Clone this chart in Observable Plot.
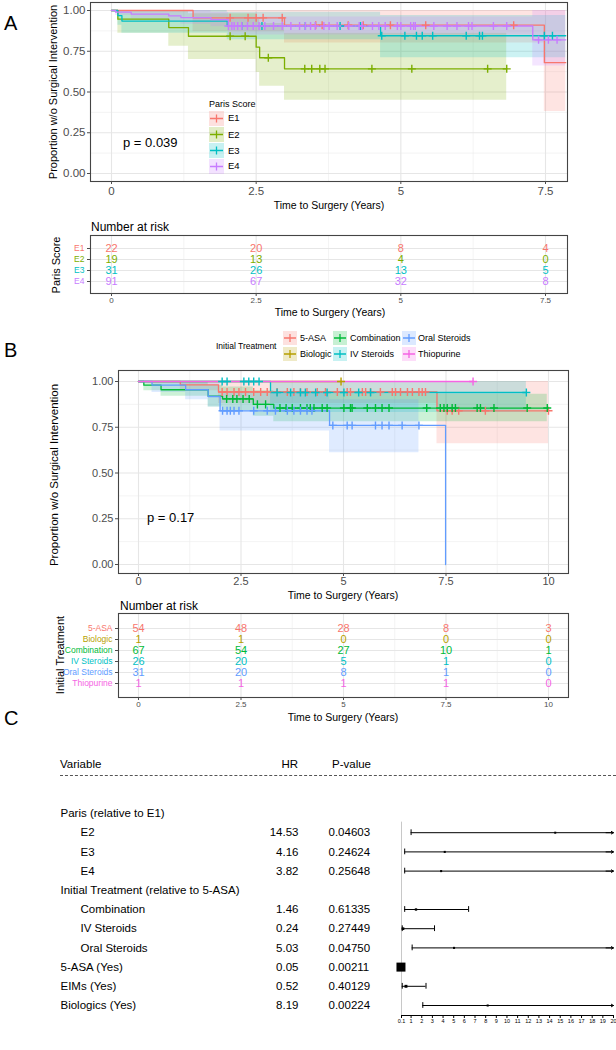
<!DOCTYPE html>
<html><head><meta charset="utf-8">
<script src="https://cdn.jsdelivr.net/npm/d3@7"></script>
<script src="https://cdn.jsdelivr.net/npm/@observablehq/plot@0.6"></script>
<style>
body{margin:0;background:#fff;}
#root{position:relative;width:616px;height:1050px;overflow:hidden;background:#fff;font-family:"Liberation Sans",Arial,Helvetica,sans-serif;}
</style></head><body><div id="root"></div>
<script>
// ---------------- DATA: Panel A (Paris score) ----------------
const parisGroups = ["E1","E2","E3","E4"];
const parisColors = ["#F8766D","#7CAE00","#00BFC4","#C77CFF"];

const E1_time = [0, 1.41, 2.99, 7.48];
const E1_surv = [1, 0.955, 0.91, 0.68];
const E1_lower = [1, 0.87, 0.80, 0.38];
const E1_upper = [1, 1, 1, 1];
const E1_censor = [2.05, 2.36, 2.5, 2.62, 2.95, 3.53, 3.64, 4.09, 4.35, 4.82, 5.43, 6.95];
const E1_end = 7.85;

const E2_time = [0, 0.11, 0.99, 1.33, 2.5, 2.56, 2.99];
const E2_surv = [1, 0.947, 0.895, 0.842, 0.775, 0.71, 0.642];
const E2_lower = [1, 0.86, 0.78, 0.70, 0.62, 0.535, 0.45];
const E2_upper = [1, 1, 1, 0.98, 0.95, 0.92, 0.86];
const E2_censor = [2.05, 2.31, 2.71, 3.34, 3.46, 3.6, 3.69, 4.5, 5.19, 6.5, 6.83];
const E2_end = 6.83;

const E3_time = [0, 0.11, 0.18, 2.0, 4.65];
const E3_surv = [1, 0.968, 0.935, 0.905, 0.845];
const E3_lower = [1, 0.91, 0.86, 0.82, 0.71];
const E3_upper = [1, 1, 1, 0.99, 0.97];
const E3_censor = [2.25, 2.6, 3.35, 3.95, 4.3, 4.67, 5.07, 5.27, 5.37, 5.55, 6.13, 6.36, 6.41, 7.48, 7.62];
const E3_end = 7.85;

const E4_time = [0, 0.07, 0.34, 0.99, 1.2, 1.72, 2.02, 7.28];
const E4_surv = [1, 0.99, 0.978, 0.967, 0.956, 0.944, 0.905, 0.82];
const E4_lower = [1, 0.97, 0.95, 0.93, 0.915, 0.9, 0.85, 0.66];
const E4_upper = [1, 1, 1, 1, 1, 0.99, 0.96, 1];
const E4_censor = [2.02, 2.08, 2.12, 2.18, 2.25, 2.35, 2.45, 2.55, 2.65, 2.8, 2.95, 3.1, 3.25, 3.35, 3.44, 3.52, 3.67, 3.76, 3.9, 4.1, 4.28, 4.33, 4.51, 4.62, 4.73, 4.94, 5.0, 5.17, 5.22, 5.25, 5.57, 5.8, 5.97, 6.17, 6.23, 6.6, 6.83, 7.38, 7.55, 7.7];
const E4_end = 7.85;

const xTicksA = [0, 2.5, 5, 7.5];
const xMinorA = [1.25, 3.75, 6.25];
const riskTimesA = [0, 2.5, 5, 7.5];
const riskE1 = [22, 20, 8, 4];
const riskE2 = [19, 13, 4, 0];
const riskE3 = [31, 26, 13, 5];
const riskE4 = [91, 67, 32, 8];
const pValueA = "p = 0.039";

// ---------------- DATA: Panel B (initial treatment) ----------------
const txGroups = ["5-ASA","Biologic","Combination","IV Steroids","Oral Steroids","Thiopurine"];
const txColors = ["#F8766D","#B79F00","#00BA38","#00BFC4","#619CFF","#F564E3"];

const asa_time = [0, 1.02, 1.95, 7.28];
const asa_surv = [1, 0.982, 0.943, 0.84];
const asa_lower = [1, 0.95, 0.88, 0.66];
const asa_upper = [1, 1, 1, 1];
const asa_censor = [2.04, 2.16, 2.33, 2.45, 2.61, 2.81, 2.98, 3.14, 3.38, 3.63, 3.79, 3.95, 4.11, 4.36, 4.56, 4.85, 5.09, 5.17, 5.46, 5.54, 5.66, 5.9, 6.19, 6.27, 6.39, 6.56, 6.68, 6.84, 6.92, 7.0, 7.53, 7.65, 7.81, 8.46, 10.0];
const asa_end = 10.0;

const bio_time = [0];
const bio_surv = [1];
const bio_lower = [1];
const bio_upper = [1];
const bio_censor = [4.94];
const bio_end = 4.94;

const comb_time = [0, 0.13, 0.55, 1.7, 2.05, 2.8, 3.3];
const comb_surv = [1, 0.98, 0.955, 0.92, 0.905, 0.875, 0.855];
const comb_lower = [1, 0.95, 0.92, 0.86, 0.84, 0.81, 0.78];
const comb_upper = [1, 1, 1, 0.98, 0.97, 0.95, 0.93];
const comb_censor = [2.15, 2.3, 2.4, 2.55, 2.7, 2.9, 3.1, 3.45, 3.6, 3.75, 3.95, 4.11, 4.19, 4.28, 4.48, 4.6, 5.01, 5.17, 5.21, 5.58, 5.78, 5.94, 6.11, 7.03, 7.36, 7.45, 7.53, 7.65, 7.73, 8.26, 8.34, 8.67, 9.48, 9.97];
const comb_end = 9.97;

const ivs_time = [0, 3.22];
const ivs_surv = [1, 0.94];
const ivs_lower = [1, 0.83];
const ivs_upper = [1, 1];
const ivs_censor = [2.04, 2.16, 2.57, 2.69, 2.81, 2.94, 3.38, 3.71, 3.95, 4.07, 4.32, 4.6, 5.01, 5.37, 5.66, 9.46];
const ivs_end = 9.46;

const ors_time = [0, 0.33, 1.15, 1.7, 1.99, 4.66, 7.49];
const ors_surv = [1, 0.98, 0.955, 0.918, 0.84, 0.76, 0];
const ors_lower = [1, 0.94, 0.9, 0.86, 0.73, 0.61, null];
const ors_upper = [1, 1, 1, 0.99, 0.94, 0.9, null];
const ors_censor = [2.05, 2.16, 2.24, 2.33, 2.45, 2.81, 3.14, 3.34, 3.63, 3.79, 3.95, 4.11, 4.23, 4.74, 5.09, 5.21, 5.78, 5.94, 6.11, 6.43, 6.84];
const ors_end = 7.49;
const ors_bandEnd = 6.84;

const thio_time = [0];
const thio_surv = [1];
const thio_lower = [1];
const thio_upper = [1];
const thio_censor = [8.16];
const thio_end = 8.16;

const xTicksB = [0, 2.5, 5, 7.5, 10];
const xMinorB = [1.25, 3.75, 6.25, 8.75];
const riskTimesB = [0, 2.5, 5, 7.5, 10];
const riskAsa = [54, 48, 28, 8, 3];
const riskBio = [1, 1, 0, 0, 0];
const riskComb = [67, 54, 27, 10, 1];
const riskIvs = [26, 20, 5, 1, 0];
const riskOrs = [31, 20, 8, 1, 0];
const riskThio = [1, 1, 1, 1, 0];
const pValueB = "p = 0.17";

const yTicks = [0, 0.25, 0.5, 0.75, 1];
const yMinor = [0.125, 0.375, 0.625, 0.875];

// ---------------- DATA: Panel C (forest) ----------------
const forestLabels = ["Paris (relative to E1)","E2","E3","E4","Initial Treatment (relative to 5-ASA)","Combination","IV Steroids","Oral Steroids","5-ASA (Yes)","EIMs (Yes)","Biologics (Yes)"];
const forestIndent = [false,true,true,true,false,true,true,true,false,false,false];
const forestHR = [null,14.53,4.16,3.82,null,1.46,0.24,5.03,0.05,0.52,8.19];
const forestP = ["","0.04603","0.24624","0.25648","","0.61335","0.27449","0.04750","0.00211","0.40129","0.00224"];
const forestLower = [null,1.0,0.4,0.4,null,0.4,0.17,1.1,0.01,0.17,2.1];
const forestUpper = [null,210,43,37,null,6.4,3.2,23,0.3,2.4,32];
const forestTicks = [0.1,1,2,3,4,5,6,7,8,9,10,11,12,13,14,15,16,17,18,19,20];
const forestHeader = ["Variable","HR","P-value"];

// ---------------- helpers ----------------
const FONT = '"Liberation Sans", Arial, Helvetica, sans-serif';
const root = document.getElementById("root");
const NS = "http://www.w3.org/2000/svg";

function txt(s, x, y, o = {}) {
  const d = document.createElement("div");
  d.textContent = s;
  const ax = o.anchor === "middle" ? "-50%" : o.anchor === "end" ? "-100%" : "0";
  d.style.cssText = `position:absolute;left:${x}px;top:${y}px;font-size:${o.size||12}px;line-height:1;white-space:nowrap;color:${o.color||"#000"};font-family:${FONT};transform:translate(${ax},-50%)${o.rotate ? ` rotate(${o.rotate}deg)` : ""};`;
  root.appendChild(d);
}
function put(node, top) {
  const w = document.createElement("div");
  w.style.cssText = `position:absolute;left:0;top:${top}px;`;
  w.appendChild(node);
  root.appendChild(w);
}
function key(x, yc, w, h, color) {
  const s = document.createElementNS(NS, "svg");
  s.setAttribute("width", w); s.setAttribute("height", h);
  s.style.cssText = `position:absolute;left:${x}px;top:${yc - h/2}px;`;
  const r = document.createElementNS(NS, "rect");
  r.setAttribute("width", w); r.setAttribute("height", h);
  r.setAttribute("fill", color); r.setAttribute("fill-opacity", 0.22);
  s.appendChild(r);
  const p = document.createElementNS(NS, "path");
  const cx = w/2, cy = h/2;
  p.setAttribute("d", `M1,${cy}H${w-1}M${cx-4},${cy}H${cx+4}M${cx},${cy-4}V${cy+4}`);
  p.setAttribute("stroke", color); p.setAttribute("stroke-width", 1.3); p.setAttribute("fill", "none");
  s.appendChild(p);
  root.appendChild(s);
}
function survAt(t, s, x) { let v = s[0]; for (let i = 0; i < t.length; i++) if (t[i] <= x) v = s[i]; return v; }
function buildRows(series) {
  const lines = [], bands = [], cens = [];
  for (const d of series) {
    d.t.forEach((t, i) => lines.push({g: d.g, t, s: d.s[i]}));
    lines.push({g: d.g, t: d.end, s: d.s[d.s.length - 1]});
    let lo = null, hi = null;
    d.t.forEach((t, i) => { if (d.lo[i] != null) { bands.push({g: d.g, t, lo: d.lo[i], hi: d.hi[i]}); lo = d.lo[i]; hi = d.hi[i]; } });
    if (lo != null) bands.push({g: d.g, t: d.bandEnd ?? d.end, lo, hi});
    d.cens.forEach(c => cens.push({g: d.g, t: c, s: survAt(d.t, d.s, c)}));
  }
  return {lines, bands, cens};
}
const gridMinor = {stroke: "#EDEDED", strokeOpacity: 1, strokeWidth: 0.6};
const gridMajor = {stroke: "#E6E6E6", strokeOpacity: 1, strokeWidth: 1.1};

function kmPlot(o) {
  const {lines, bands, cens} = buildRows(o.series);
  return Plot.plot({
    width: 616, height: o.height,
    marginLeft: o.mL, marginRight: o.mR, marginTop: o.mT, marginBottom: o.mB,
    style: {fontFamily: FONT, fontSize: o.tickFont + "px", color: "#4D4D4D", background: "transparent", overflow: "visible"},
    x: {domain: [o.xTicks[0], o.xTicks[o.xTicks.length-1]], range: o.xRange},
    y: {domain: [0, 1], range: o.yRange},
    color: {domain: o.groups, range: o.colors},
    marks: [
      Plot.gridX(o.xMinor, gridMinor),
      Plot.gridY(yMinor, gridMinor),
      Plot.gridX(o.xTicks, gridMajor),
      Plot.gridY(yTicks, gridMajor),
      Plot.areaY(bands, {x: "t", y1: "lo", y2: "hi", z: "g", fill: "g", fillOpacity: 0.2, curve: "step-after"}),
      Plot.line(lines, {x: "t", y: "s", z: "g", stroke: "g", strokeWidth: 1.3, curve: "step-after"}),
      Plot.dot(cens, {x: "t", y: "s", stroke: "g", symbol: "plus", r: 2.7, strokeWidth: 1.4}),
      Plot.frame({stroke: "#444", strokeWidth: 1.1}),
      Plot.axisX(o.xTicks, {tickSize: 3, tickPadding: o.xPad ?? 2, tickFormat: d => String(d), label: null}),
      Plot.axisY(yTicks, {tickSize: 3, tickPadding: 2, tickFormat: d3.format(".2f"), label: null})
    ]
  });
}
function riskPlot(o) {
  const rows = [];
  o.groups.forEach((g, gi) => o.times.forEach((t, ti) => rows.push({g, t, n: o.counts[gi][ti]})));
  return Plot.plot({
    width: 616, height: o.height,
    marginLeft: o.mL, marginRight: o.mR, marginTop: o.mT, marginBottom: o.mB,
    style: {fontFamily: FONT, fontSize: "8px", color: "#4D4D4D", background: "transparent", overflow: "visible"},
    x: {domain: [o.xTicks[0], o.xTicks[o.xTicks.length-1]], range: o.xRange},
    y: {type: "point", domain: o.groups, range: o.yRange},
    color: {domain: o.groups, range: o.colors},
    marks: [
      Plot.gridX(o.xMinor, gridMinor),
      Plot.gridX(o.xTicks, gridMajor),
      Plot.gridY(o.groups, gridMajor),
      Plot.text(rows, {x: "t", y: "g", text: d => String(d.n), fill: "g", fontSize: o.numFont}),
      Plot.text(o.groups, {y: d => d, text: d => d, fill: d => d, frameAnchor: "left", dx: -6, textAnchor: "end", fontSize: o.labFont}),
      Plot.frame({stroke: "#444", strokeWidth: 1.1}),
      Plot.axisX(o.xTicks, {tickSize: 3, tickPadding: 1, tickFormat: d => String(d), label: null, fontSize: 8}),
      Plot.axisY(o.groups, {tickSize: 3, tickFormat: () => "", label: null})
    ]
  });
}

// ---------------- Panel A ----------------
const seriesA = [
  {g: "E1", t: E1_time, s: E1_surv, lo: E1_lower, hi: E1_upper, cens: E1_censor, end: E1_end},
  {g: "E2", t: E2_time, s: E2_surv, lo: E2_lower, hi: E2_upper, cens: E2_censor, end: E2_end},
  {g: "E3", t: E3_time, s: E3_surv, lo: E3_lower, hi: E3_upper, cens: E3_censor, end: E3_end},
  {g: "E4", t: E4_time, s: E4_surv, lo: E4_lower, hi: E4_upper, cens: E4_censor, end: E4_end}
];
put(kmPlot({series: seriesA, groups: parisGroups, colors: parisColors, height: 200, mL: 90, mR: 49, mT: 2, mB: 19,
  xTicks: xTicksA, xMinor: xMinorA, xRange: [111, 545], yRange: [173, 10], tickFont: 11.5}), 0);
txt("A", 4, 23, {size: 20});
txt("Proportion w/o Surgical Intervention", 53, 92, {size: 11, anchor: "middle", rotate: -90});
txt("Time to Surgery (Years)", 329, 205, {size: 10.5, anchor: "middle"});
txt(pValueA, 123, 142, {size: 13});
// legend A
txt("Paris Score", 209, 104, {size: 9});
[118, 134.5, 150.5, 166].forEach((yc, i) => { key(209, yc, 15, 15, parisColors[i]); txt(parisGroups[i], 228, yc, {size: 9.5}); });

// risk table A
txt("Number at risk", 91, 227, {size: 12});
put(riskPlot({groups: parisGroups, colors: parisColors, times: riskTimesA, counts: [riskE1, riskE2, riskE3, riskE4],
  height: 77, mL: 90, mR: 49, mT: 5, mB: 14, xTicks: xTicksA, xMinor: xMinorA, xRange: [111, 545], yRange: [12.5, 57], numFont: 11, labFont: 8.5}), 230);
txt("Paris Score", 56, 265, {size: 11, anchor: "middle", rotate: -90});
txt("Time to Surgery (Years)", 330, 312, {size: 10.5, anchor: "middle"});

// ---------------- Panel B ----------------
const seriesB = [
  {g: "5-ASA", t: asa_time, s: asa_surv, lo: asa_lower, hi: asa_upper, cens: asa_censor, end: asa_end},
  {g: "Biologic", t: bio_time, s: bio_surv, lo: bio_lower, hi: bio_upper, cens: bio_censor, end: bio_end},
  {g: "Combination", t: comb_time, s: comb_surv, lo: comb_lower, hi: comb_upper, cens: comb_censor, end: comb_end},
  {g: "IV Steroids", t: ivs_time, s: ivs_surv, lo: ivs_lower, hi: ivs_upper, cens: ivs_censor, end: ivs_end},
  {g: "Oral Steroids", t: ors_time, s: ors_surv, lo: ors_lower, hi: ors_upper, cens: ors_censor, end: ors_end, bandEnd: ors_bandEnd},
  {g: "Thiopurine", t: thio_time, s: thio_surv, lo: thio_lower, hi: thio_upper, cens: thio_censor, end: thio_end}
];
txt("B", 4, 350, {size: 20});
txt("Initial Treatment", 216, 346, {size: 8.5});
const legCols = [283, 333, 402], legLabX = [300, 350, 418], legRows = [338, 354];
txGroups.forEach((g, i) => {
  const c = Math.floor(i / 2), r = i % 2;
  key(legCols[c], legRows[r], 14, 14, txColors[i]);
  txt(g, legLabX[c], legRows[r], {size: 9});
});
put(kmPlot({series: seriesB, groups: txGroups, colors: txColors, height: 230, mL: 118, mR: 48, mT: 10, mB: 17,
  xTicks: xTicksB, xMinor: xMinorB, xRange: [138, 548], yRange: [204, 21], tickFont: 11, xPad: 1}), 360);
txt("Proportion w/o Surgical Intervention", 55, 475, {size: 11.5, anchor: "middle", rotate: -90});
txt("Time to Surgery (Years)", 343, 595, {size: 10.5, anchor: "middle"});
txt(pValueB, 147, 517, {size: 13});

txt("Number at risk", 120, 606, {size: 12});
put(riskPlot({groups: txGroups, colors: txColors, times: riskTimesB, counts: [riskAsa, riskBio, riskComb, riskIvs, riskOrs, riskThio],
  height: 104, mL: 118, mR: 48, mT: 5, mB: 15, xTicks: xTicksB, xMinor: xMinorB, xRange: [138, 548], yRange: [12, 82], numFont: 11, labFont: 8.5}), 608);
txt("Initial Treatment", 60, 655, {size: 11, anchor: "middle", rotate: -90});
txt("Time to Surgery (Years)", 343, 717, {size: 10.5, anchor: "middle"});

// ---------------- Panel C ----------------
txt("C", 4, 718, {size: 20});
txt(forestHeader[0], 60, 765, {size: 11.5});
txt(forestHeader[1], 298, 765, {size: 11.5, anchor: "end"});
txt(forestHeader[2], 332, 765, {size: 11.5});
const dash = document.createElement("div");
dash.style.cssText = "position:absolute;left:60px;top:775px;width:556px;border-top:1px dashed #555;";
root.appendChild(dash);

const fr = forestLabels.map((label, i) => ({i, label, indent: forestIndent[i], hr: forestHR[i], p: forestP[i], lo: forestLower[i], hi: forestUpper[i]}));
const est = fr.filter(d => d.hr != null);
const wmin = d3.min(est, d => d.hi - d.lo);
est.forEach(d => { d.side = 2 + 7 * wmin / (d.hi - d.lo); });
put(Plot.plot({
  width: 616, height: 300, marginLeft: 401, marginRight: 3, marginTop: 0, marginBottom: 25,
  style: {fontFamily: FONT, fontSize: "11.5px", color: "#000", background: "transparent", overflow: "visible"},
  x: {domain: [0.1, 20], range: [401, 613]},
  y: {domain: [0, 10], range: [73, 265], axis: null},
  r: {type: "identity"},
  marks: [
    Plot.ruleX([forestTicks[0]], {y1: 0.45, y2: 10.52, stroke: "#C8C8C8", strokeWidth: 1}),
    Plot.text(fr.filter(d => !d.indent), {y: "i", text: "label", frameAnchor: "left", dx: -341, textAnchor: "start"}),
    Plot.text(fr.filter(d => d.indent), {y: "i", text: "label", frameAnchor: "left", dx: -321, textAnchor: "start"}),
    Plot.text(est, {y: "i", text: d => d.hr.toFixed(2), frameAnchor: "left", dx: -103, textAnchor: "end"}),
    Plot.text(est, {y: "i", text: "p", frameAnchor: "left", dx: -73, textAnchor: "start"}),
    Plot.ruleY(est, {y: "i", x1: d => Math.max(d.lo, 0.1), x2: d => Math.min(d.hi, 20), stroke: "#000", strokeWidth: 1}),
    Plot.ruleX(est.filter(d => d.lo >= 0.1), {x: "lo", y1: d => d.i - 0.15, y2: d => d.i + 0.15, stroke: "#000"}),
    Plot.ruleX(est.filter(d => d.hi <= 20), {x: "hi", y1: d => d.i - 0.15, y2: d => d.i + 0.15, stroke: "#000"}),
    Plot.arrow(est.filter(d => d.hi > 20), {x1: () => 19.3, x2: () => 20, y1: "i", y2: "i", headLength: 7, strokeWidth: 1, stroke: "#000"}),
    Plot.dot(est, {x: "hr", y: "i", symbol: "square", r: d => d.side / 1.7725, fill: "#000", stroke: "none"}),
    Plot.frame({anchor: "bottom", stroke: "#000"}),
    Plot.axisX(forestTicks, {tickSize: 3, tickPadding: 1, fontSize: 5.5, tickFormat: d => String(d), label: null})
  ]
}), 740);
</script></body></html>
